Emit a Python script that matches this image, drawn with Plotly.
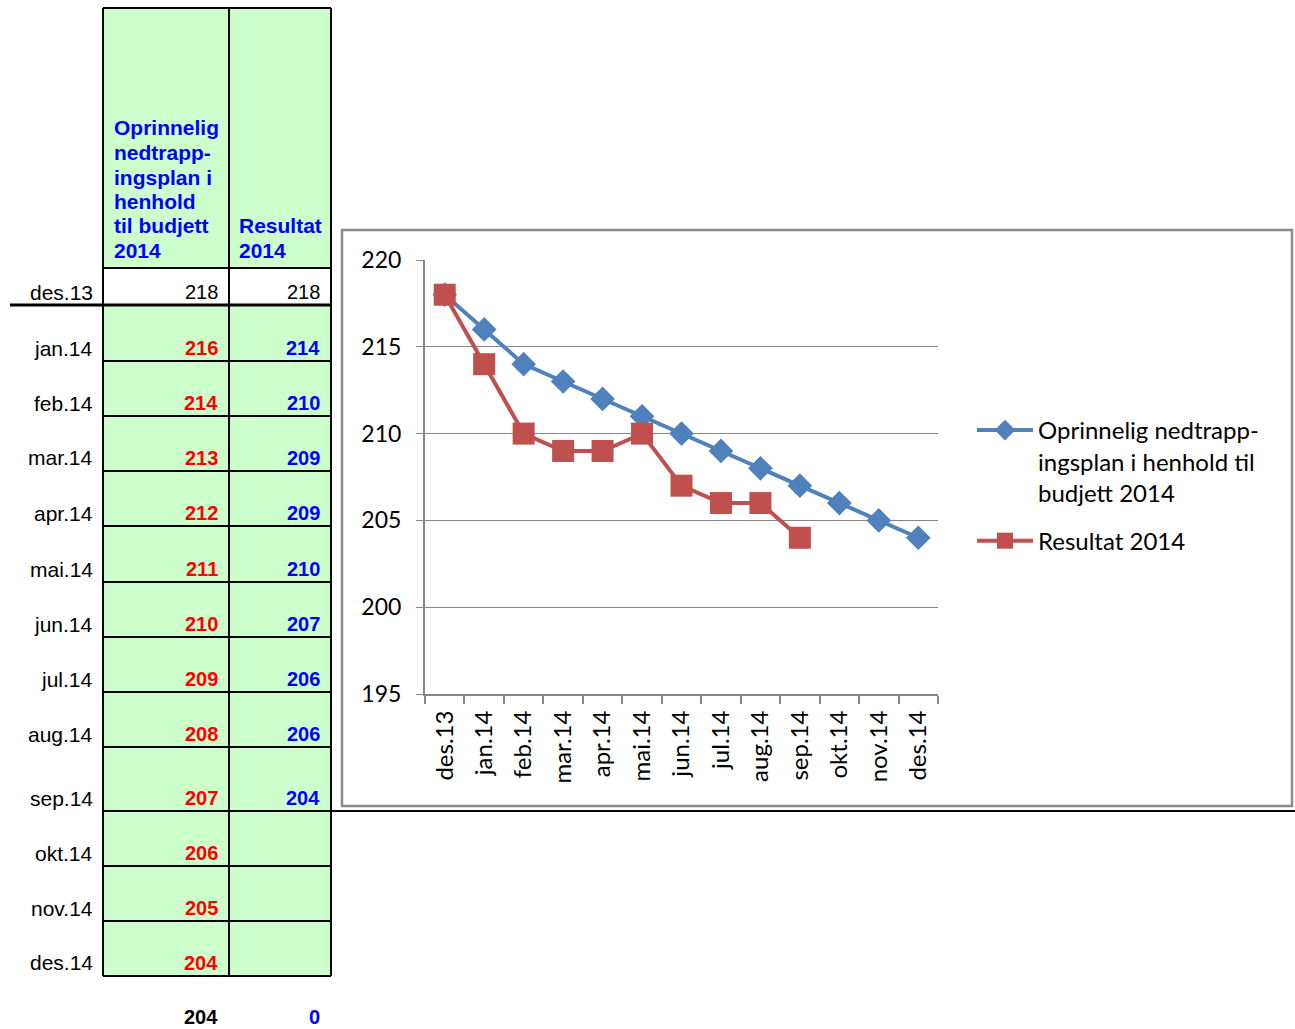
import plotly.graph_objects as go

W, H = 1295, 1029

months = ["des.13", "jan.14", "feb.14", "mar.14", "apr.14", "mai.14", "jun.14",
          "jul.14", "aug.14", "sep.14", "okt.14", "nov.14", "des.14"]
plan = [218, 216, 214, 213, 212, 211, 210, 209, 208, 207, 206, 205, 204]
result = [218, 214, 210, 209, 209, 210, 207, 206, 206, 204]
plan_name = "Oprinnelig nedtrapp-<br>ingsplan i henhold til<br>budjett 2014"
result_name = "Resultat 2014"
head_plan = ["Oprinnelig", "nedtrapp-", "ingsplan i", "henhold", "til budjett", "2014"]
head_result = ["Resultat", "2014"]
total_plan = 204
total_result = 0
yticks = [195, 200, 205, 210, 215, 220]

BLUE = "#4F81BD"
RED = "#C0504D"
GREEN = "#CCFFCC"
TFONT = "Liberation Sans"
CFONT = "Lato"


def px(x):
    return x / W


def py(y):
    return 1 - y / H


fig = go.Figure()
fig.add_trace(go.Scatter(
    x=months, y=plan, name=plan_name, mode="lines+markers", legendgroup="a",
    line=dict(color=BLUE, width=4),
    marker=dict(symbol="diamond", size=19, color=BLUE)))
fig.add_trace(go.Scatter(
    x=months[:len(result)], y=result, name=result_name, mode="lines+markers",
    legendgroup="b",
    line=dict(color=RED, width=4),
    marker=dict(symbol="square", size=22, color=RED)))

shapes = []
ann = []

# ---- table geometry (pixels)
xl, xm, xr = 103, 229, 331
ytop, yhead = 8, 268
row_edges = [268, 305, 361, 416, 471, 526, 582, 637, 692, 747, 811, 866, 921, 976]


def rect(x0, y0, x1, y1, fill):
    shapes.append(dict(type="rect", xref="paper", yref="paper", x0=px(x0), x1=px(x1),
                       y0=py(y1), y1=py(y0), fillcolor=fill, line=dict(width=0),
                       layer="below"))


def hline(x0, x1, y, w=2, color="black"):
    shapes.append(dict(type="line", xref="paper", yref="paper", x0=px(x0), x1=px(x1),
                       y0=py(y), y1=py(y), line=dict(color=color, width=w)))


def vline(x, y0, y1, w=2, color="black"):
    shapes.append(dict(type="line", xref="paper", yref="paper", x0=px(x), x1=px(x),
                       y0=py(y0), y1=py(y1), line=dict(color=color, width=w)))


def text(x, y, s, color="black", bold=False, anchor="right", size=20, font=TFONT):
    ann.append(dict(xref="paper", yref="paper", x=px(x), y=py(y), text=(f"<b>{s}</b>" if bold else s),
                    showarrow=False, xanchor=anchor, yanchor="middle",
                    font=dict(family=font, size=size, color=color)))


rect(xl, ytop, xr, yhead, GREEN)
rect(xl, row_edges[1], xr, row_edges[-1], GREEN)
rect(xl, row_edges[0], xr, row_edges[1], "white")

hline(xl, xr, ytop)
for i, e in enumerate(row_edges):
    if i == 1:
        hline(10, xr, e, w=3)
    else:
        hline(xl, xr, e)
vline(xl, ytop, row_edges[-1])
vline(xm, ytop, row_edges[-1])
vline(xr, ytop, row_edges[-1])

for j, s in enumerate(head_plan):
    text(112, 128 + 24.5 * j, s, color="#0000FF", bold=True, anchor="left", size=21)
for j, s in enumerate(head_result):
    text(237, 226 + 24.5 * j, s, color="#0000FF", bold=True, anchor="left", size=21)

for i, m in enumerate(months):
    yc = row_edges[i + 1] - 13
    text(95, yc, m, size=21)
    if i == 0:
        text(220, yc, str(plan[i]))
        text(322, yc, str(result[i]))
    else:
        text(220, yc, str(plan[i]), color="#FF0000", bold=True)
        if i < len(result):
            text(322, yc, str(result[i]), color="#0000FF", bold=True)

text(220, 1017, str(total_plan), bold=True)
text(322, 1017, str(total_result), color="#0000FF", bold=True)

# chart frame
shapes.append(dict(type="rect", xref="paper", yref="paper", x0=px(342), x1=px(1292),
                   y0=py(806), y1=py(230), line=dict(color="#8C8C8C", width=2.5),
                   fillcolor="rgba(0,0,0,0)"))
hline(331, 1295, 811, w=2)

fig.update_layout(
    width=W, height=H, margin=dict(l=0, r=0, t=0, b=0, autoexpand=False),
    paper_bgcolor="white", plot_bgcolor="white",
    shapes=shapes, annotations=ann,
    xaxis=dict(domain=[px(425), px(938)], type="category", categoryorder="array",
               categoryarray=months, range=[-0.5, len(months) - 0.5],
               tickangle=-90, showgrid=False, automargin=False,
               showline=True, linecolor="#868686", linewidth=2,
               ticks="outside", tickson="boundaries", ticklen=8, tickcolor="#868686",
               tickwidth=2, ticklabelstandoff=5,
               tickfont=dict(family=CFONT, size=24, color="black")),
    yaxis=dict(domain=[py(694), py(260)], range=[195, 220], tickvals=yticks,
               showgrid=True, gridcolor="#868686", gridwidth=1, automargin=False,
               showline=True, linecolor="#868686", linewidth=2,
               ticks="outside", ticklen=7, tickcolor="#868686", tickwidth=1,
               ticklabelstandoff=10,
               zeroline=False,
               tickfont=dict(family=CFONT, size=23, color="black")),
    showlegend=True,
    legend=dict(x=px(972), y=py(408), xanchor="left", yanchor="top",
                font=dict(family=CFONT, size=24, color="black"),
                traceorder="grouped", valign="top",
                itemwidth=56, tracegroupgap=14, bgcolor="rgba(0,0,0,0)"),
)

fig.write_html(
    "out.html",
    config={"displayModeBar": False},
    post_script="document.body.style.margin='0';document.body.style.overflow='hidden';",
)
